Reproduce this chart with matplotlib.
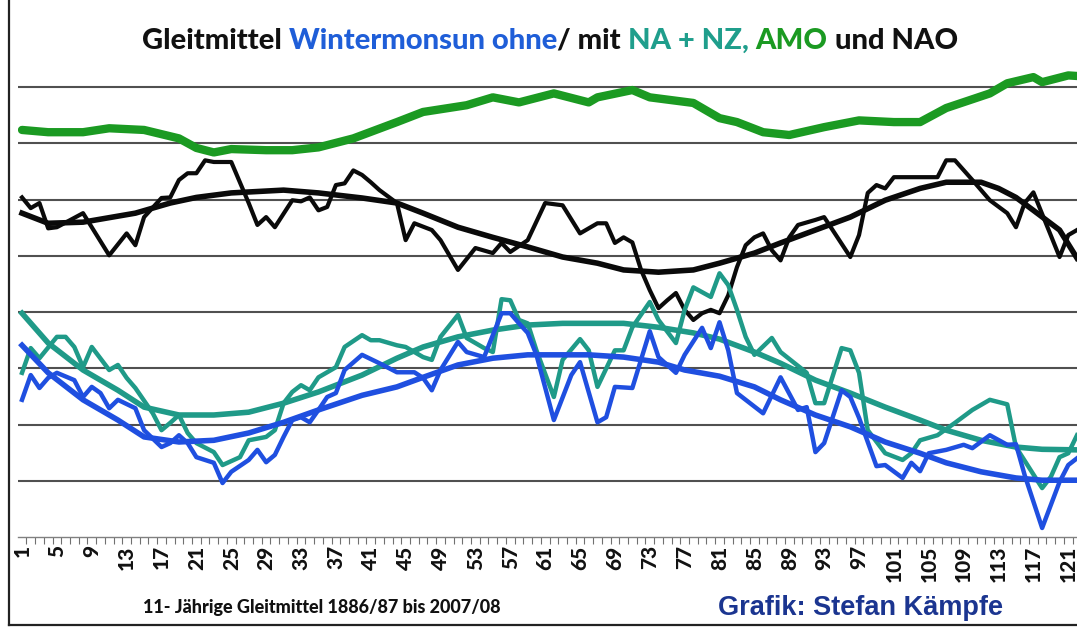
import matplotlib
matplotlib.use('Agg')
import matplotlib.pyplot as plt
from matplotlib.lines import Line2D
from matplotlib.ticker import FixedLocator

# ---------------- data (gridline units) ----------------
amo_x = [1, 4, 8, 11, 15, 19, 21, 23, 25, 29, 32, 35, 39, 44, 47, 52, 55, 58, 62, 66,
         67, 71, 73, 78, 81, 83, 86, 89, 93, 97, 101, 104, 107, 112, 114, 117, 118, 121, 122]
amo_y = [7.24, 7.20, 7.20, 7.27, 7.24, 7.09, 6.92, 6.84, 6.90, 6.88, 6.88, 6.93, 7.09, 7.38,
         7.56, 7.68, 7.82, 7.73, 7.89, 7.73, 7.82, 7.95, 7.82, 7.72, 7.45, 7.38, 7.20, 7.15,
         7.29, 7.41, 7.38, 7.38, 7.63, 7.89, 8.07, 8.18, 8.09, 8.21, 8.20]

nao_x = [1, 2, 3, 4, 5, 8, 9, 11, 13, 14, 15, 17, 18, 19, 20, 21, 22, 23, 25, 27, 28, 29,
         30, 32, 33, 34, 35, 36, 37, 38, 39, 40, 41, 42, 44, 45, 46, 48, 49, 51, 53, 55, 56,
         57, 59, 61, 63, 65, 67, 68, 69, 70, 71, 72, 73, 74, 75, 76, 77, 78, 79, 80, 81, 82,
         83, 84, 85, 86, 87, 88, 89, 90, 92, 93, 96, 97, 98, 99, 100, 101, 104, 106, 107,
         108, 110, 112, 114, 115, 116, 117, 120, 121, 122]
nao_y = [6.04, 5.85, 5.94, 5.49, 5.51, 5.76, 5.51, 5.01, 5.40, 5.19, 5.69, 6.03, 6.04, 6.35,
         6.47, 6.47, 6.70, 6.67, 6.67, 5.94, 5.55, 5.69, 5.51, 5.99, 5.97, 6.04, 5.81, 5.87,
         6.26, 6.29, 6.52, 6.44, 6.31, 6.17, 5.94, 5.28, 5.58, 5.46, 5.28, 4.75, 5.14, 5.05,
         5.23, 5.07, 5.28, 5.94, 5.90, 5.40, 5.58, 5.58, 5.23, 5.33, 5.24, 4.75, 4.39, 4.07,
         4.21, 4.34, 4.04, 3.86, 3.98, 4.04, 3.98, 4.30, 4.80, 5.19, 5.33, 5.40, 5.10, 4.92,
         5.33, 5.55, 5.64, 5.69, 4.98, 5.37, 6.12, 6.26, 6.20, 6.40, 6.40, 6.40, 6.70, 6.70,
         6.35, 5.99, 5.76, 5.51, 5.94, 6.13, 4.98, 5.37, 5.46]

nao_trend_x = [1, 4, 8, 14, 18, 21, 25, 31, 35, 40, 44, 47, 51, 55, 59, 63, 67, 70, 74, 78,
               81, 85, 88, 92, 96, 100, 104, 107, 111, 113, 115, 117, 120, 122]
nao_trend_y = [5.76, 5.58, 5.60, 5.76, 5.94, 6.04, 6.12, 6.17, 6.12, 6.03, 5.94, 5.76, 5.51,
               5.33, 5.16, 4.98, 4.87, 4.75, 4.71, 4.75, 4.87, 5.05, 5.23, 5.46, 5.69, 5.99,
               6.20, 6.31, 6.31, 6.20, 6.04, 5.81, 5.46, 4.96]

wm_x = [1, 2, 3, 4, 5, 7, 8, 9, 10, 11, 12, 14, 15, 17, 18, 19, 20, 21, 23, 24, 25, 27, 28,
        29, 30, 31, 32, 33, 34, 35, 36, 37, 38, 40, 42, 44, 46, 47, 48, 49, 51, 52, 54, 56,
        57, 58, 59, 60, 62, 64, 65, 67, 68, 69, 71, 73, 74, 76, 77, 79, 80, 81, 82, 83, 86,
        88, 90, 91, 92, 93, 95, 96, 97, 99, 100, 102, 103, 104, 105, 107, 109, 110, 112, 114,
        115, 116, 118, 119, 120, 121, 122]
wm_y = [2.44, 2.88, 2.65, 2.83, 2.92, 2.79, 2.49, 2.67, 2.56, 2.29, 2.44, 2.29, 1.90, 1.60,
        1.67, 1.81, 1.67, 1.42, 1.32, 0.96, 1.16, 1.37, 1.55, 1.33, 1.46, 1.78, 2.08, 2.13,
        2.04, 2.26, 2.49, 2.56, 2.97, 3.24, 3.09, 2.93, 2.93, 2.83, 2.61, 2.97, 3.47, 3.29,
        3.20, 3.98, 3.98, 3.80, 3.63, 3.24, 2.08, 2.88, 3.11, 2.04, 2.13, 2.67, 2.65, 3.66,
        3.20, 2.92, 3.24, 3.72, 3.36, 3.82, 3.32, 2.56, 2.20, 2.84, 2.26, 2.31, 1.51, 1.67,
        2.61, 2.49, 2.12, 1.26, 1.28, 1.05, 1.32, 1.17, 1.49, 1.55, 1.64, 1.58, 1.81, 1.64,
        1.65, 1.10, 0.16, 0.57, 0.98, 1.28, 1.40]

wm_trend_x = [1, 4, 8, 12, 15, 19, 23, 27, 31, 35, 40, 44, 47, 51, 55, 59, 63, 66, 70, 74,
              77, 81, 85, 88, 92, 96, 100, 104, 107, 111, 115, 118, 122]
wm_trend_y = [3.41, 2.92, 2.44, 2.08, 1.78, 1.69, 1.72, 1.85, 2.04, 2.26, 2.52, 2.67, 2.84,
              3.06, 3.18, 3.24, 3.24, 3.24, 3.20, 3.11, 2.97, 2.86, 2.67, 2.44, 2.17, 1.96,
              1.69, 1.49, 1.32, 1.16, 1.05, 1.01, 1.01]

wmn_x = [1, 2, 3, 5, 6, 7, 8, 9, 11, 12, 13, 14, 16, 17, 18, 19, 20, 21, 23, 24, 26, 27, 29,
         30, 31, 32, 33, 34, 35, 37, 38, 40, 41, 42, 44, 45, 46, 47, 48, 49, 51, 52, 54, 55,
         56, 57, 58, 59, 60, 62, 63, 65, 66, 67, 69, 70, 71, 73, 74, 76, 77, 78, 80, 81, 82,
         83, 84, 85, 87, 88, 91, 92, 93, 95, 96, 97, 98, 100, 102, 103, 104, 106, 108, 110,
         112, 113, 114, 115, 118, 119, 120, 121, 122]
wmn_y = [2.92, 3.36, 3.18, 3.56, 3.56, 3.38, 3.02, 3.38, 2.97, 3.06, 2.83, 2.65, 2.20, 1.90,
         2.03, 2.17, 1.85, 1.67, 1.51, 1.28, 1.42, 1.72, 1.78, 1.90, 2.38, 2.58, 2.70, 2.61,
         2.84, 3.02, 3.38, 3.59, 3.50, 3.50, 3.41, 3.38, 3.29, 3.20, 3.15, 3.56, 3.95, 3.54,
         3.36, 3.29, 4.23, 4.21, 3.86, 3.80, 3.32, 2.49, 3.15, 3.52, 3.32, 2.67, 3.32, 3.32,
         3.73, 4.18, 3.86, 3.45, 4.04, 4.44, 4.27, 4.69, 4.48, 4.04, 3.56, 3.24, 3.54, 3.29,
         2.92, 2.38, 2.38, 3.36, 3.32, 2.92, 1.90, 1.49, 1.37, 1.49, 1.72, 1.81, 2.03, 2.26,
         2.44, 2.40, 2.36, 1.60, 0.87, 1.07, 1.42, 1.49, 1.81]

wmn_trend_x = [1, 4, 8, 12, 15, 19, 23, 27, 31, 35, 40, 44, 47, 51, 55, 59, 63, 67, 70, 74,
               78, 81, 85, 88, 92, 96, 100, 104, 107, 111, 115, 118, 122]
wmn_trend_y = [3.98, 3.45, 2.97, 2.61, 2.31, 2.17, 2.17, 2.22, 2.38, 2.58, 2.88, 3.18, 3.38,
               3.56, 3.68, 3.77, 3.80, 3.80, 3.80, 3.73, 3.63, 3.52, 3.29, 3.09, 2.79, 2.56,
               2.31, 2.08, 1.90, 1.72, 1.60, 1.56, 1.55]

tick_values = list(range(1, 123, 4))
tick_labels = [str(v) for v in tick_values]
grid_levels = [1, 2, 3, 4, 5, 6, 7, 8]

title_pieces = [("Gleitmittel ", "#111111"), ("Wintermonsun ohne", "#1f5ed8"),
                ("/ mit ", "#111111"), ("NA + NZ,", "#1f9e8c"), (" AMO", "#1b9a22"),
                (" und NAO", "#111111")]
footer_left = "11- Jährige Gleitmittel 1886/87 bis 2007/08"
footer_right = "Grafik: Stefan Kämpfe"

# ---------------- colours ----------------
C_GREEN = "#1b9a22"
C_BLACK = "#0a0a0a"
C_BLUE = "#1f4fe0"
C_TEAL = "#1f9a88"

W, H = 1077, 628
fig = plt.figure(figsize=(W / 100, H / 100), dpi=100)
fig.patch.set_facecolor("white")

ax = fig.add_axes([18 / W, (H - 537) / H, (W - 18) / W, (537 - 31) / H])
ax.set_xlim(0.54, 122.0)
ax.set_ylim(0, 9)

for g in grid_levels:
    ax.axhline(g, color="#505050", lw=1.5, zorder=1)

ax.plot(amo_x, amo_y, color=C_GREEN, lw=6.0, solid_joinstyle="round",
        solid_capstyle="round", zorder=3)
ax.plot(nao_x, nao_y, color=C_BLACK, lw=3.0, zorder=4)
ax.plot(nao_trend_x, nao_trend_y, color=C_BLACK, lw=4.0, zorder=4)
ax.plot(wmn_x, wmn_y, color=C_TEAL, lw=3.2, zorder=4.5)
ax.plot(wmn_trend_x, wmn_trend_y, color=C_TEAL, lw=4.0, zorder=4.5)
ax.plot(wm_x, wm_y, color=C_BLUE, lw=3.2, zorder=5)
ax.plot(wm_trend_x, wm_trend_y, color=C_BLUE, lw=4.0, zorder=5)

for s in ["left", "right", "top"]:
    ax.spines[s].set_visible(False)
ax.spines["bottom"].set_color("#808080")
ax.spines["bottom"].set_linewidth(1.0)
ax.set_yticks([])
ax.xaxis.set_major_locator(FixedLocator(tick_values))
ax.set_xticklabels(tick_labels, rotation=90, fontsize=15, fontweight="black",
                   family=["Lato", "DejaVu Sans"], color="#111111")
ax.xaxis.set_minor_locator(FixedLocator([v + 0.5 for v in range(0, 123)]))
ax.tick_params(axis="x", which="major", length=0, pad=6)
ax.tick_params(axis="x", which="minor", length=5, width=0.8, color="#707070")

# ---------------- multi-coloured title ----------------
renderer = fig.canvas.get_renderer()
tkw = dict(fontsize=21, fontweight="black", family=["Lato", "DejaVu Sans"], va="center",
           ha="left")
probe = fig.text(0, 0, "x", **tkw)
wx = probe.get_window_extent(renderer).width
probe.remove()
full = "".join(p for p, _ in title_pieces)
tmp = fig.text(0, 0, full, **tkw)
total_w = tmp.get_window_extent(renderer).width
tmp.remove()
x0 = 550 - total_w / 2
prefix = ""
for s, c in title_pieces:
    lead = len(s) - len(s.lstrip(" "))
    base = prefix + s[:lead]
    if base:
        t = fig.text(0, 0, base + "x", **tkw)
        off = t.get_window_extent(renderer).width - wx
        t.remove()
    else:
        off = 0
    fig.text((x0 + off) / W, (H - 41) / H, s.lstrip(" "), color=c, **tkw)
    prefix += s

# ---------------- footer texts ----------------
fig.text(322 / W, (H - 608) / H, footer_left, fontsize=13, fontweight="black",
         family=["Lato", "DejaVu Sans"], color="#111111", ha="center", va="center")
fig.text(860 / W, (H - 608) / H, footer_right, fontsize=19.5, fontweight="bold",
         family=["Liberation Sans", "DejaVu Sans"], color="#1b3590", ha="center",
         va="center")

# image frame (left and bottom border)
fig.add_artist(Line2D([9 / W, 9 / W], [(H - 625) / H, 1.0], color="#222222", lw=1.6,
                      transform=fig.transFigure))
fig.add_artist(Line2D([9 / W, 1.0], [(H - 625) / H, (H - 625) / H], color="#222222",
                      lw=1.6, transform=fig.transFigure))

fig.savefig("out.png", dpi=100, facecolor="white")
